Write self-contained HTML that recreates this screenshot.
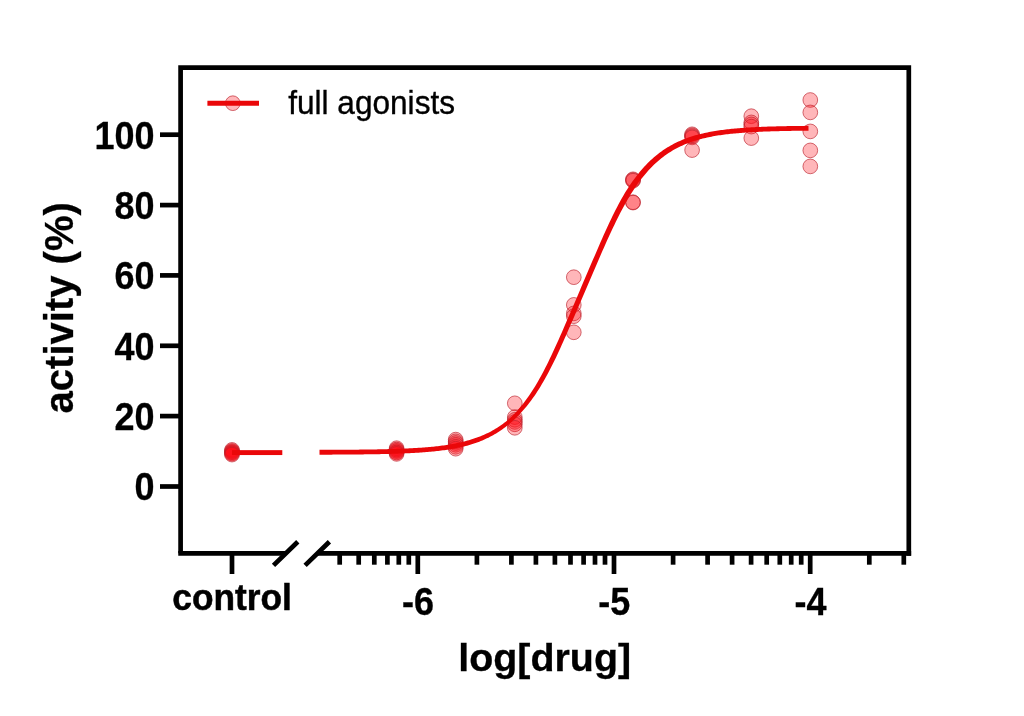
<!DOCTYPE html>
<html lang="en"><head><meta charset="utf-8"><title>log[drug] activity chart</title>
<style>html,body{margin:0;padding:0;background:#fff}svg{display:block}</style></head>
<body>
<svg width="1024" height="716" viewBox="0 0 1024 716">
<rect width="1024" height="716" fill="#fff"/>
<g fill="#ff0c18" fill-opacity="0.3" stroke="none">
<circle cx="232" cy="450.5" r="7.6"/>
<circle cx="232" cy="451.7" r="7.6"/>
<circle cx="232" cy="452.9" r="7.6"/>
<circle cx="232" cy="454.0" r="7.6"/>
<circle cx="232" cy="452.3" r="7.6"/>
<circle cx="396.6" cy="449" r="7.6"/>
<circle cx="396.6" cy="450.5" r="7.6"/>
<circle cx="396.6" cy="452" r="7.6"/>
<circle cx="396.6" cy="453.2" r="7.6"/>
</g>
<g fill="#ff0c18" fill-opacity="0.3" stroke="#bb202b" stroke-opacity="0.72" stroke-width="0.9">
<circle cx="232" cy="449.9" r="7.35"/>
<circle cx="232" cy="451.1" r="7.35"/>
<circle cx="232" cy="452.3" r="7.35"/>
<circle cx="232" cy="453.5" r="7.35"/>
<circle cx="232" cy="454.6" r="7.35"/>
<circle cx="396.6" cy="448.2" r="7.35"/>
<circle cx="396.6" cy="449.6" r="7.35"/>
<circle cx="396.6" cy="451.0" r="7.35"/>
<circle cx="396.6" cy="452.5" r="7.35"/>
<circle cx="396.6" cy="453.9" r="7.35"/>
<circle cx="455.7" cy="439.6" r="7.35"/>
<circle cx="455.7" cy="441.3" r="7.35"/>
<circle cx="455.7" cy="443" r="7.35"/>
<circle cx="455.7" cy="444.8" r="7.35"/>
<circle cx="455.7" cy="446.8" r="7.35"/>
<circle cx="455.7" cy="448.7" r="7.35"/>
<circle cx="514.8" cy="403.3" r="7.35"/>
<circle cx="514.8" cy="417.1" r="7.35"/>
<circle cx="514.8" cy="419.8" r="7.35"/>
<circle cx="514.8" cy="421.9" r="7.35"/>
<circle cx="514.8" cy="424.3" r="7.35"/>
<circle cx="514.8" cy="427.8" r="7.35"/>
<circle cx="573.8" cy="277.2" r="7.35"/>
<circle cx="573.8" cy="304.9" r="7.35"/>
<circle cx="573.8" cy="313.4" r="7.35"/>
<circle cx="573.8" cy="316.2" r="7.35"/>
<circle cx="573.8" cy="332.3" r="7.35"/>
<circle cx="633.0" cy="179.3" r="7.35"/>
<circle cx="633.0" cy="180.0" r="7.35"/>
<circle cx="633.0" cy="180.7" r="7.35"/>
<circle cx="633.0" cy="202.2" r="7.35"/>
<circle cx="633.0" cy="202.6" r="7.35"/>
<circle cx="692.1" cy="134.3" r="7.35"/>
<circle cx="692.1" cy="135.3" r="7.35"/>
<circle cx="692.1" cy="136.3" r="7.35"/>
<circle cx="692.1" cy="137.4" r="7.35"/>
<circle cx="692.1" cy="150.1" r="7.35"/>
<circle cx="751.3" cy="116.2" r="7.35"/>
<circle cx="751.3" cy="122.4" r="7.35"/>
<circle cx="751.3" cy="124.4" r="7.35"/>
<circle cx="751.3" cy="126.6" r="7.35"/>
<circle cx="751.3" cy="138.1" r="7.35"/>
<circle cx="810.3" cy="100.0" r="7.35"/>
<circle cx="810.3" cy="112.4" r="7.35"/>
<circle cx="810.3" cy="131.4" r="7.35"/>
<circle cx="810.3" cy="150.4" r="7.35"/>
<circle cx="810.3" cy="166.4" r="7.35"/>
</g>
<g fill="#ea0709" stroke="none">
<rect x="232" y="450.15" width="50.3" height="4.90"/>
<path d="M319.51 454.67L321.01 454.67L322.51 454.66L324.01 454.66L325.51 454.65L327.01 454.64L328.51 454.64L330.01 454.63L331.51 454.63L333.01 454.62L334.51 454.61L336.01 454.60L337.51 454.60L339.01 454.59L340.51 454.58L342.02 454.57L343.52 454.56L345.02 454.55L346.52 454.54L348.02 454.53L349.52 454.52L351.02 454.50L352.52 454.49L354.02 454.48L355.52 454.46L357.02 454.45L358.53 454.43L360.03 454.42L361.53 454.40L363.03 454.38L364.53 454.36L366.03 454.34L367.53 454.32L369.03 454.30L370.54 454.28L372.04 454.26L373.54 454.23L375.04 454.21L376.54 454.18L378.05 454.15L379.55 454.13L381.05 454.09L382.55 454.06L384.05 454.03L385.56 453.99L387.06 453.96L388.56 453.92L390.07 453.88L391.57 453.84L393.07 453.79L394.58 453.75L396.08 453.70L397.58 453.65L399.09 453.60L400.59 453.54L402.09 453.48L403.60 453.42L405.10 453.36L406.61 453.29L408.11 453.22L409.62 453.15L411.12 453.08L412.63 453.00L414.14 452.91L415.64 452.83L417.15 452.74L418.65 452.64L420.16 452.54L421.67 452.44L423.18 452.33L424.69 452.21L426.19 452.09L427.70 451.97L429.21 451.84L430.72 451.70L432.23 451.56L433.74 451.41L435.25 451.25L436.76 451.09L438.28 450.91L439.79 450.73L441.30 450.55L442.82 450.35L444.33 450.14L445.84 449.93L447.36 449.70L448.88 449.47L450.39 449.22L451.91 448.97L453.43 448.70L454.95 448.42L456.47 448.12L457.99 447.81L459.51 447.49L461.03 447.16L462.55 446.81L464.07 446.44L465.60 446.06L467.12 445.66L468.65 445.24L470.17 444.80L471.70 444.33L473.22 443.84L474.75 443.33L476.27 442.80L477.79 442.24L479.32 441.66L480.84 441.05L482.37 440.42L483.89 439.77L485.42 439.08L486.95 438.37L488.47 437.63L490.00 436.85L491.52 436.05L493.05 435.21L494.57 434.33L496.09 433.42L497.62 432.48L499.14 431.49L500.66 430.47L502.18 429.41L503.70 428.31L505.22 427.16L506.74 425.97L508.25 424.74L509.77 423.46L511.29 422.13L512.83 420.79L514.37 419.39L515.91 417.94L517.45 416.43L518.99 414.87L520.54 413.25L522.08 411.58L523.62 409.84L525.16 408.04L526.70 406.18L528.24 404.26L529.78 402.27L531.32 400.21L532.85 398.09L534.39 395.89L535.92 393.63L537.46 391.29L538.99 388.88L540.52 386.41L542.05 383.86L543.58 381.24L545.11 378.55L546.64 375.79L548.17 372.97L549.69 370.07L551.22 367.12L552.74 364.10L554.25 361.02L555.76 357.88L557.27 354.69L558.78 351.45L560.29 348.17L561.80 344.85L563.30 341.50L564.81 338.11L566.31 334.70L567.82 331.27L569.32 327.82L570.83 324.35L572.33 320.88L573.84 317.39L575.34 313.90L576.84 310.40L578.35 306.90L579.85 303.40L581.35 299.90L582.85 296.40L584.36 292.89L585.86 289.39L587.36 285.89L588.87 282.38L590.37 278.88L591.87 275.38L593.37 271.88L594.88 268.39L596.38 264.90L597.88 261.42L599.38 257.95L600.88 254.49L602.38 251.05L603.89 247.63L605.41 244.24L606.92 240.87L608.43 237.54L609.93 234.25L611.44 231.00L612.95 227.79L614.46 224.64L615.96 221.54L617.47 218.49L618.97 215.51L620.47 212.60L621.97 209.75L623.47 206.97L624.97 204.25L626.47 201.62L627.96 199.05L629.44 196.54L630.92 194.11L632.39 191.75L633.87 189.47L635.35 187.25L636.82 185.11L638.29 183.03L639.76 181.02L641.23 179.08L642.70 177.21L644.17 175.40L645.64 173.65L647.10 171.96L648.57 170.33L650.03 168.76L651.49 167.24L652.95 165.78L654.41 164.36L655.87 163.00L657.32 161.69L658.78 160.43L660.23 159.21L661.68 158.04L663.14 156.91L664.59 155.82L666.05 154.78L667.50 153.77L668.95 152.81L670.41 151.88L671.86 150.98L673.32 150.12L674.77 149.30L676.23 148.50L677.68 147.74L679.14 147.01L680.60 146.30L682.06 145.63L683.52 144.98L684.98 144.36L686.44 143.76L687.91 143.19L689.37 142.64L690.84 142.11L692.30 141.60L693.77 141.12L695.24 140.65L696.71 140.21L698.18 139.78L699.65 139.37L701.12 138.97L702.60 138.59L704.07 138.23L705.54 137.88L707.02 137.55L708.50 137.23L709.98 136.92L711.46 136.63L712.94 136.36L714.42 136.09L715.90 135.84L717.38 135.60L718.87 135.37L720.35 135.15L721.84 134.94L723.32 134.74L724.81 134.54L726.29 134.36L727.78 134.18L729.27 134.01L730.76 133.85L732.25 133.69L733.74 133.54L735.23 133.40L736.72 133.27L738.21 133.14L739.70 133.01L741.19 132.89L742.68 132.78L744.17 132.67L745.66 132.57L747.16 132.47L748.65 132.37L750.14 132.28L751.64 132.19L753.13 132.11L754.63 132.03L756.12 131.95L757.61 131.88L759.11 131.81L760.60 131.75L762.10 131.68L763.60 131.62L765.09 131.56L766.59 131.51L768.08 131.45L769.58 131.40L771.08 131.36L772.57 131.31L774.07 131.26L775.57 131.22L777.06 131.18L778.56 131.14L780.06 131.10L781.55 131.07L783.05 131.04L784.55 131.00L786.05 130.97L787.55 130.94L789.04 130.91L790.54 130.89L792.04 130.86L793.54 130.84L795.04 130.81L796.53 130.79L798.03 130.77L799.53 130.75L801.03 130.73L802.53 130.71L804.03 130.69L805.53 130.67L807.03 130.65L808.52 130.64L808.48 125.84L806.97 125.85L805.47 125.87L803.97 125.88L802.47 125.90L800.97 125.92L799.47 125.94L797.97 125.95L796.47 125.97L794.96 126.00L793.46 126.02L791.96 126.04L790.46 126.07L788.96 126.09L787.45 126.12L785.95 126.15L784.45 126.18L782.95 126.21L781.45 126.24L779.94 126.28L778.44 126.31L776.94 126.35L775.43 126.39L773.93 126.43L772.43 126.47L770.92 126.52L769.42 126.57L767.92 126.61L766.41 126.67L764.91 126.72L763.40 126.78L761.90 126.84L760.40 126.90L758.89 126.97L757.39 127.03L755.88 127.11L754.37 127.18L752.87 127.26L751.36 127.34L749.86 127.43L748.35 127.52L746.84 127.61L745.34 127.71L743.83 127.82L742.32 127.92L740.81 128.04L739.30 128.16L737.79 128.28L736.28 128.41L734.77 128.55L733.26 128.69L731.75 128.84L730.24 128.99L728.73 129.16L727.22 129.33L725.71 129.51L724.19 129.70L722.68 129.89L721.16 130.10L719.65 130.31L718.13 130.53L716.62 130.77L715.10 131.01L713.58 131.27L712.06 131.54L710.54 131.82L709.02 132.11L707.50 132.41L705.98 132.72L704.46 133.05L702.93 133.40L701.40 133.76L699.88 134.13L698.35 134.53L696.82 134.94L695.29 135.37L693.76 135.82L692.23 136.29L690.70 136.78L689.16 137.29L687.63 137.83L686.09 138.39L684.56 138.98L683.02 139.59L681.48 140.22L679.94 140.89L678.40 141.58L676.86 142.31L675.32 143.06L673.77 143.84L672.23 144.66L670.68 145.52L669.14 146.41L667.59 147.33L666.05 148.30L664.50 149.30L662.95 150.34L661.41 151.43L659.86 152.56L658.32 153.73L656.77 154.95L655.22 156.22L653.68 157.53L652.13 158.90L650.59 160.32L649.05 161.78L647.51 163.31L645.97 164.89L644.43 166.53L642.90 168.23L641.36 169.99L639.83 171.81L638.30 173.69L636.77 175.63L635.24 177.64L633.71 179.72L632.18 181.86L630.65 184.07L629.13 186.35L627.61 188.70L626.08 191.12L624.56 193.61L623.04 196.17L621.53 198.81L620.03 201.52L618.53 204.30L617.03 207.14L615.53 210.05L614.03 213.02L612.53 216.06L611.04 219.15L609.54 222.30L608.05 225.49L606.56 228.74L605.07 232.03L603.57 235.35L602.08 238.72L600.59 242.11L599.11 245.53L597.62 248.97L596.12 252.42L594.62 255.89L593.12 259.37L591.62 262.86L590.12 266.35L588.63 269.85L587.13 273.35L585.63 276.85L584.13 280.36L582.64 283.86L581.14 287.37L579.64 290.88L578.15 294.38L576.65 297.89L575.15 301.39L573.65 304.89L572.16 308.39L570.66 311.89L569.16 315.38L567.67 318.87L566.17 322.34L564.68 325.80L563.18 329.25L561.69 332.67L560.19 336.07L558.70 339.44L557.20 342.78L555.71 346.08L554.22 349.34L552.73 352.56L551.24 355.72L549.75 358.83L548.26 361.88L546.78 364.88L545.31 367.81L543.83 370.68L542.36 373.48L540.89 376.21L539.42 378.87L537.95 381.46L536.48 383.98L535.01 386.42L533.54 388.80L532.08 391.10L530.61 393.33L529.15 395.49L527.68 397.58L526.22 399.61L524.76 401.57L523.30 403.47L521.84 405.30L520.38 407.07L518.92 408.78L517.46 410.44L516.01 412.03L514.55 413.57L513.09 415.05L511.63 416.49L510.17 417.87L508.71 419.20L507.23 420.45L505.75 421.65L504.26 422.81L502.78 423.93L501.30 425.00L499.82 426.03L498.34 427.01L496.86 427.96L495.38 428.87L493.91 429.75L492.43 430.59L490.95 431.39L489.48 432.17L488.00 432.91L486.53 433.62L485.05 434.31L483.58 434.96L482.11 435.59L480.63 436.20L479.16 436.77L477.68 437.33L476.21 437.86L474.73 438.37L473.25 438.85L471.78 439.32L470.30 439.76L468.83 440.19L467.35 440.61L465.88 441.02L464.40 441.41L462.93 441.78L461.45 442.13L459.97 442.48L458.49 442.80L457.01 443.11L455.53 443.41L454.05 443.70L452.57 443.97L451.09 444.24L449.61 444.49L448.12 444.73L446.64 444.96L445.16 445.18L443.67 445.39L442.18 445.59L440.70 445.79L439.21 445.97L437.72 446.15L436.24 446.32L434.75 446.48L433.26 446.63L431.77 446.78L430.28 446.92L428.79 447.06L427.30 447.19L425.81 447.31L424.31 447.43L422.82 447.54L421.33 447.65L419.84 447.75L418.35 447.85L416.85 447.94L415.36 448.03L413.86 448.12L412.37 448.20L410.88 448.28L409.38 448.36L407.89 448.43L406.39 448.50L404.90 448.56L403.40 448.63L401.91 448.69L400.41 448.74L398.91 448.80L397.42 448.85L395.92 448.90L394.42 448.95L392.93 449.00L391.43 449.04L389.93 449.08L388.44 449.12L386.94 449.16L385.44 449.20L383.95 449.23L382.45 449.26L380.95 449.30L379.45 449.33L377.95 449.36L376.46 449.38L374.96 449.41L373.46 449.43L371.96 449.46L370.46 449.48L368.97 449.50L367.47 449.53L365.97 449.55L364.47 449.56L362.97 449.58L361.47 449.60L359.97 449.62L358.47 449.63L356.98 449.65L355.48 449.66L353.98 449.68L352.48 449.69L350.98 449.70L349.48 449.72L347.98 449.73L346.48 449.74L344.98 449.75L343.48 449.76L341.98 449.77L340.49 449.78L338.99 449.79L337.49 449.80L335.99 449.80L334.49 449.81L332.99 449.82L331.49 449.83L329.99 449.83L328.49 449.84L326.99 449.84L325.49 449.85L323.99 449.86L322.49 449.86L320.99 449.87L319.49 449.87Z"/>
</g>
<circle cx="232.8" cy="103.2" r="7.35" fill="#ff0c18" fill-opacity="0.3" stroke="#bb202b" stroke-opacity="0.72" stroke-width="0.9"/>
<path d="M207.4 103.3H259" stroke="#ea0709" stroke-width="5"/>
<g stroke="#000" stroke-width="4.7" fill="none">
<path d="M180.6 553.3V67.7H908.8V555.65" stroke-linejoin="miter"/>
<path d="M178.25 553.3H285.5M317.4 553.3H911.15"/>
<path d="M273.5 565.4L297.8 541.7M305.1 565.4L329.4 541.7"/>
<path d="M160 486.5H180.6"/>
<path d="M160 416.1H180.6"/>
<path d="M160 345.8H180.6"/>
<path d="M160 275.4H180.6"/>
<path d="M160 205.1H180.6"/>
<path d="M160 134.7H180.6"/>
<path d="M232.0 553.3V574"/>
<path d="M417.8 553.3V574"/>
<path d="M614.0 553.3V574"/>
<path d="M810.2 553.3V574"/>
<path d="M339.7 553.3V564.7"/>
<path d="M358.7 553.3V564.7"/>
<path d="M374.3 553.3V564.7"/>
<path d="M387.4 553.3V564.7"/>
<path d="M398.8 553.3V564.7"/>
<path d="M408.8 553.3V564.7"/>
<path d="M476.9 553.3V564.7"/>
<path d="M511.4 553.3V564.7"/>
<path d="M535.9 553.3V564.7"/>
<path d="M554.9 553.3V564.7"/>
<path d="M570.5 553.3V564.7"/>
<path d="M583.6 553.3V564.7"/>
<path d="M595.0 553.3V564.7"/>
<path d="M605.0 553.3V564.7"/>
<path d="M673.1 553.3V564.7"/>
<path d="M707.6 553.3V564.7"/>
<path d="M732.1 553.3V564.7"/>
<path d="M751.1 553.3V564.7"/>
<path d="M766.7 553.3V564.7"/>
<path d="M779.8 553.3V564.7"/>
<path d="M791.2 553.3V564.7"/>
<path d="M801.2 553.3V564.7"/>
<path d="M869.3 553.3V564.7"/>
<path d="M903.8 553.3V564.7"/>
</g>
<g font-family="'Liberation Sans', Arial, sans-serif" fill="#000">
<g font-weight="bold" font-size="36" text-anchor="end" stroke="#000" stroke-width="0.3">
<text transform="translate(154.6 500.4) scale(1 1.065)">0</text>
<text transform="translate(154.6 430.0) scale(1 1.065)">20</text>
<text transform="translate(154.6 359.7) scale(1 1.065)">40</text>
<text transform="translate(154.6 289.3) scale(1 1.065)">60</text>
<text transform="translate(154.6 219.0) scale(1 1.065)">80</text>
<text transform="translate(154.6 148.6) scale(1 1.065)">100</text>
</g>
<g font-weight="bold" font-size="36" text-anchor="middle" stroke="#000" stroke-width="0.3">
<text transform="translate(232.1 610.1) scale(1 1.03)" font-size="35.3" stroke="#000" stroke-width="0.5">control</text>
<text transform="translate(418.1 615) scale(1 1.075)">-6</text>
<text transform="translate(614.3 615) scale(1 1.075)">-5</text>
<text transform="translate(810.5 615) scale(1 1.075)">-4</text>
</g>
<text x="544.7" y="671" font-weight="bold" font-size="39.4" text-anchor="middle" stroke="#000" stroke-width="0.3">log[drug]</text>
<text transform="translate(72.8 307.8) rotate(-90)" font-weight="bold" font-size="40" text-anchor="middle" stroke="#000" stroke-width="0.3">activity (%)</text>
<text transform="translate(288.2 114.2) scale(1 1.03)" font-size="31.6" stroke="#000" stroke-width="0.35">full agonists</text>
</g>
</svg>
</body></html>
